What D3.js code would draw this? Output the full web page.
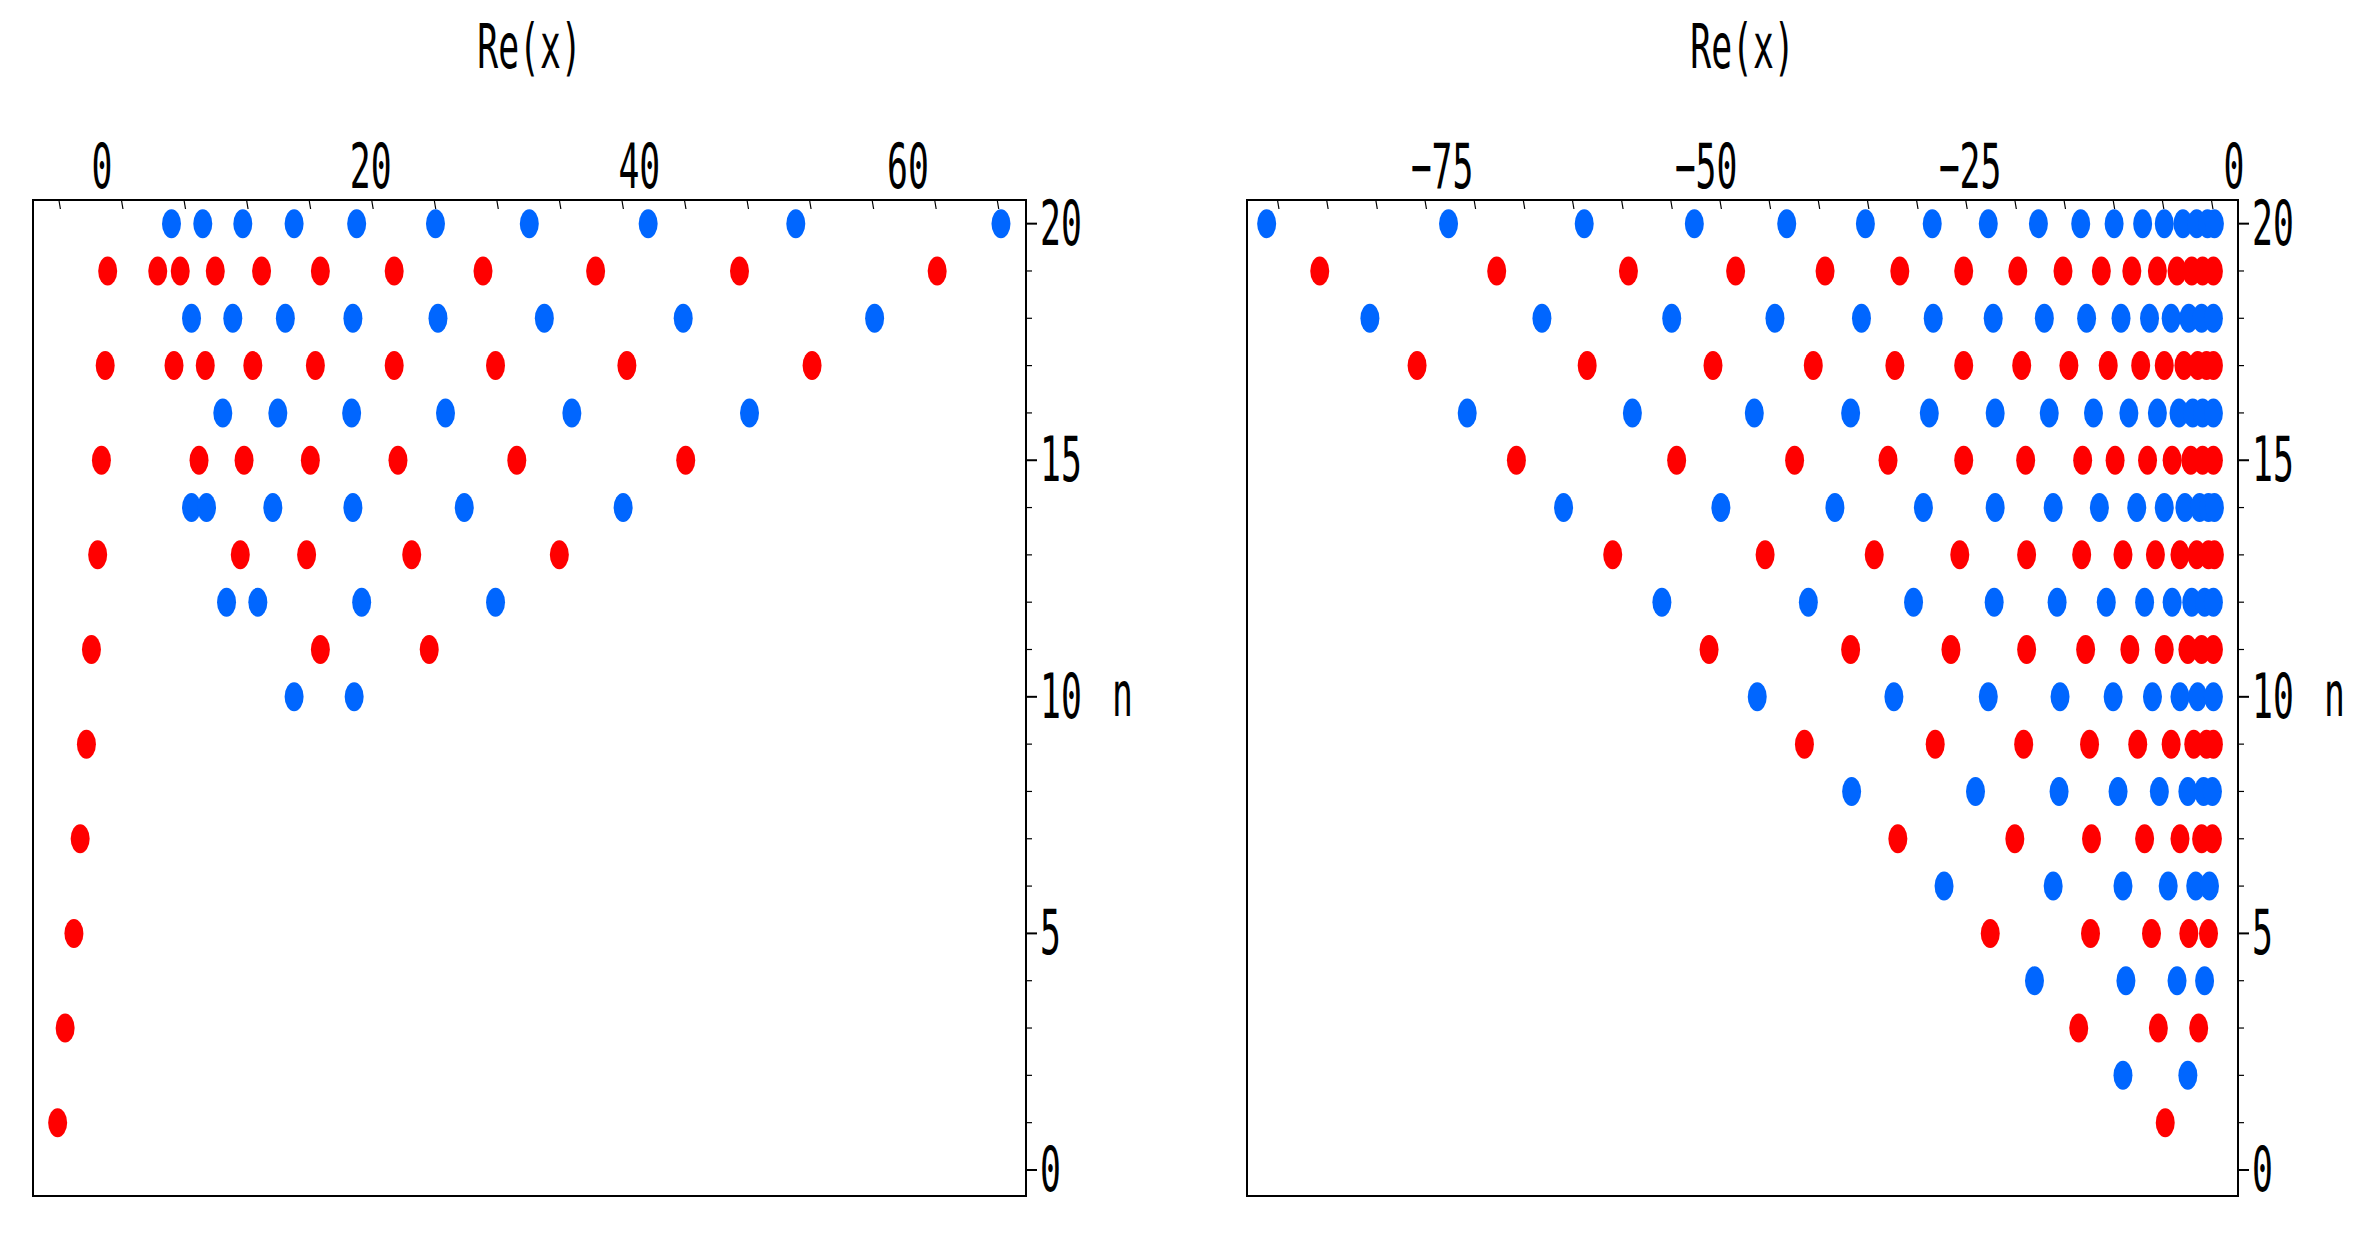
<!DOCTYPE html>
<html><head><meta charset="utf-8">
<script src="https://cdn.jsdelivr.net/npm/d3@7"></script>
<style>body{margin:0;background:#fff}svg{display:block}</style>
</head><body>
<script>
// ---- data ----
const leftXTicks = [0, 20, 40, 60];
const rightXTicks = [-75, -50, -25, 0];
const yTicks = [0, 5, 10, 15, 20];
const nValues = d3.range(1, 21);
const leftRows = {
  20: [4.0, 6.5, 9.7, 13.8, 18.8, 25.1, 32.6, 42.1, 53.9, 70.3],
  19: [-1.1, 2.9, 4.7, 7.5, 11.2, 15.9, 21.8, 28.9, 37.9, 49.4, 65.2],
  18: [5.6, 8.9, 13.1, 18.5, 25.3, 33.8, 44.9, 60.2],
  17: [-1.3, 4.2, 6.7, 10.5, 15.5, 21.8, 29.9, 40.4, 55.2],
  16: [8.1, 12.5, 18.4, 25.9, 36.0, 50.2],
  15: [-1.6, 6.2, 9.8, 15.1, 22.1, 31.6, 45.1],
  14: [5.6, 6.8, 12.1, 18.5, 27.4, 40.1],
  13: [-1.9, 9.5, 14.8, 23.2, 35.0],
  12: [8.4, 10.9, 19.2, 29.9],
  11: [-2.4, 15.9, 24.6],
  10: [13.8, 18.6],
  9: [-2.8],
  7: [-3.3],
  5: [-3.8],
  3: [-4.5],
  1: [-5.1]
};
const rightRows = {
  20: [-96.1, -77.6, -63.8, -52.6, -43.2, -35.2, -28.4, -22.7, -17.6, -13.3, -9.9, -7.0, -4.8, -2.9, -1.5, -0.4, 0.3],
  19: [-90.7, -72.7, -59.3, -48.4, -39.3, -31.7, -25.2, -19.7, -15.1, -11.2, -8.1, -5.5, -3.5, -2.0, -0.9, 0.2],
  18: [-85.6, -68.1, -54.9, -44.4, -35.6, -28.3, -22.2, -17.0, -12.7, -9.2, -6.3, -4.1, -2.3, -1.0, 0.2],
  17: [-80.8, -63.5, -50.7, -40.5, -32.2, -25.2, -19.3, -14.5, -10.5, -7.2, -4.8, -2.8, -1.4, -0.5, 0.2],
  16: [-75.7, -58.9, -46.5, -36.7, -28.7, -22.0, -16.5, -12.0, -8.4, -5.5, -3.3, -1.9, -0.9, 0.2],
  15: [-70.7, -54.4, -42.4, -32.9, -25.2, -18.9, -13.1, -9.8, -6.5, -4.0, -2.1, -0.9, 0.2],
  14: [-65.9, -49.9, -38.3, -29.3, -22.0, -16.1, -11.4, -7.6, -4.8, -2.7, -1.2, -0.3, 0.3],
  13: [-60.9, -45.4, -34.3, -25.6, -18.8, -13.2, -9.0, -5.7, -3.2, -1.5, -0.3, 0.3],
  12: [-55.9, -41.0, -30.3, -22.1, -15.7, -10.7, -6.8, -4.0, -2.0, -0.7, 0.2],
  11: [-51.1, -36.7, -26.5, -18.8, -12.8, -8.3, -4.8, -2.4, -1.0, 0.2],
  10: [-46.2, -32.3, -22.7, -15.4, -10.0, -6.0, -3.2, -1.4, 0.2],
  9: [-41.4, -28.1, -19.1, -12.4, -7.5, -4.1, -1.8, -0.5, 0.2],
  8: [-36.6, -24.0, -15.5, -9.5, -5.3, -2.4, -0.8, 0.1],
  7: [-31.9, -20.0, -12.2, -6.8, -3.2, -1.0, 0.1],
  6: [-27.2, -16.1, -9.0, -4.4, -1.6, -0.2],
  5: [-22.5, -12.3, -6.1, -2.3, -0.3],
  4: [-18.0, -8.7, -3.5, -0.7],
  3: [-13.5, -5.4, -1.3],
  2: [-9.0, -2.4],
  1: [-4.7]
};

// ---- drawing ----
const W = 2368, H = 1235;
const svg = d3.select("body").append("svg").attr("width", W).attr("height", H);
const FONT = "DejaVu Sans Mono";
const red = "#ff0000", blue = "#0066ff";

function txt(g, x, y, s, anchor, size) {
  return g.append("text").attr("transform", `translate(${x},${y}) scale(0.56,1)`)
    .attr("text-anchor", anchor).attr("font-family", FONT)
    .attr("font-size", size).attr("fill", "#000").text(s);
}

function panel(box, xDomain, rows, xTicks, labelRange) {
  const x = d3.scaleLinear().domain(xDomain).range([box.x0, box.x1]);
  const xl = d3.scaleLinear().domain([xTicks[0], xTicks[xTicks.length - 1]]).range(labelRange);
  const y = d3.scaleLinear().domain([-0.55, 20.5]).range([box.y1, box.y0]);
  const g = svg.append("g");
  g.append("rect").attr("x", box.x0).attr("y", box.y0).attr("width", box.x1 - box.x0)
    .attr("height", box.y1 - box.y0).attr("fill", "none").attr("stroke", "#000").attr("stroke-width", 2);
  const minor = d3.range(Math.ceil(xDomain[0] / 5) * 5, xDomain[1], 5);
  g.selectAll(".xt").data(minor).join("line")
    .attr("x1", d => x(d)).attr("x2", d => x(d) + 1.5)
    .attr("y1", box.y0).attr("y2", box.y0 + 9).attr("stroke", "#000").attr("stroke-width", 1.2);
  xTicks.forEach(t => txt(g, xl(t), 188, String(t).replace("-", "\u2212"), "middle", 62));
  const yMinor = d3.range(0, 21);
  g.selectAll(".yt").data(yMinor).join("line")
    .attr("x1", box.x1).attr("x2", d => box.x1 + (d % 5 === 0 ? 11 : 6))
    .attr("y1", d => y(d)).attr("y2", d => y(d)).attr("stroke", "#000").attr("stroke-width", d => d % 5 === 0 ? 2 : 1.2);
  yTicks.forEach(t => txt(g, box.x1 + 14, y(t) + 21, String(t), "start", 62));
  txt(g, box.x1 + 86, y(10) + 19, "n", "start", 62);
  txt(g, (box.x0 + box.x1) / 2, 68, "Re(x)", "middle", 62);
  const pts = [];
  nValues.forEach(n => (rows[n] || []).forEach(v => pts.push({n, v})));
  g.selectAll(".pt").data(pts).join("ellipse")
    .attr("cx", d => x(d.v)).attr("cy", d => y(d.n)).attr("rx", 9.5).attr("ry", 14.5)
    .attr("fill", d => d.n % 2 === 0 ? blue : red);
}

panel({x0: 33, x1: 1026, y0: 200, y1: 1196}, [-7.07, 72.3], leftRows, leftXTicks, [102, 908]);
panel({x0: 1247, x1: 2238, y0: 200, y1: 1196}, [-98.1, 2.7], rightRows, rightXTicks, [1442, 2234]);
</script>
</body></html>
